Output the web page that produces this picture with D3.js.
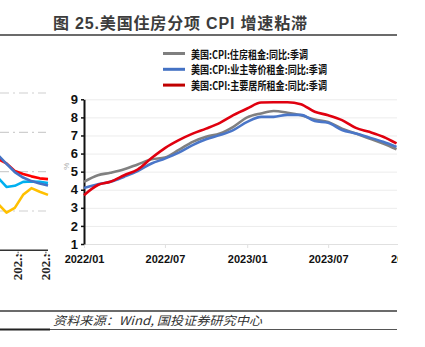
<!DOCTYPE html>
<html>
<head>
<meta charset="utf-8">
<script src="https://cdn.jsdelivr.net/npm/d3@7"></script>
<style>
  body { margin: 0; background: #fff; }
  svg { display: block; }
</style>
</head>
<body>
<script>
// monthly YoY, %, seasonally adjusted
var months = ['2022-01','2022-02','2022-03','2022-04','2022-05','2022-06','2022-07','2022-08','2022-09','2022-10','2022-11','2022-12',
              '2023-01','2023-02','2023-03','2023-04','2023-05','2023-06','2023-07','2023-08','2023-09','2023-10','2023-11','2023-12'];
var shelter = [4.44, 4.8, 4.94, 5.13, 5.4, 5.68, 5.78, 6.2, 6.65, 6.93, 7.11, 7.48, 8.0, 8.22, 8.35, 8.26, 8.12, 7.88, 7.75, 7.38, 7.11, 6.83, 6.56, 6.24];
var oer     = [4.1, 4.3, 4.44, 4.72, 5.03, 5.45, 5.72, 6.05, 6.47, 6.79, 7.02, 7.3, 7.75, 8.03, 8.03, 8.14, 8.14, 7.8, 7.7, 7.3, 7.11, 6.89, 6.65, 6.37];
var rent    = [3.7, 4.26, 4.44, 4.8, 5.12, 5.75, 6.3, 6.74, 7.1, 7.38, 7.7, 8.12, 8.49, 8.82, 8.84, 8.84, 8.73, 8.31, 8.12, 7.85, 7.42, 7.2, 6.93, 6.56];

var seriesNames  = ['美国:CPI:住房租金:同比:季调', '美国:CPI:业主等价租金:同比:季调', '美国:CPI:主要居所租金:同比:季调'];
var seriesColors = ['#808080', '#4a76c8', '#e0000f'];
var legendColors = ['#7f7f7f', '#4472c4', '#c00000'];

var yTicks = [1, 2, 3, 4, 5, 6, 7, 8, 9];
var xTicks = ['2022-01', '2022-07', '2023-01', '2023-07', '2024-01'];

// tail of the previous figure that sits to the left
var prevIdx    = [0, 1, 2, 3, 4, 5, 6];
var prevRed    = [2.32, 2.21, 2.02, 1.94, 1.88, 1.83, 1.81];
var prevBlue   = [2.42, 2.2, 1.99, 1.85, 1.76, 1.7, 1.65];
var prevCyan   = [1.84, 1.61, 1.64, 1.74, 1.75, 1.74, 1.71];
var prevYellow = [1.18, 0.96, 1.08, 1.41, 1.58, 1.49, 1.41];
var prevGrid   = [1, 2, 3, 4];
var prevTicks  = [2.4, 5.75];

var W = 425, H = 347;
var parseMonth = d3.timeParse('%Y-%m');

var svg = d3.select('body').append('svg')
  .attr('width', W)
  .attr('height', H);

svg.append('defs').append('clipPath').attr('id', 'page')
  .append('rect').attr('x', 0).attr('y', 0).attr('width', 398).attr('height', H);

var page = svg.append('g').attr('clip-path', 'url(#page)');

// title and rules
page.append('text')
  .attr('x', 53).attr('y', 23)
  .attr('dominant-baseline', 'central')
  .attr('font-family', 'Liberation Sans, Noto Sans CJK SC, sans-serif')
  .attr('font-weight', 'bold')
  .attr('font-size', 16)
  .attr('fill', '#3c3c3c')
  .attr('textLength', 254)
  .attr('lengthAdjust', 'spacing')
  .text('图 25.美国住房分项 CPI 增速粘滞');

page.append('line').attr('x1', 0).attr('x2', 397).attr('y1', 35).attr('y2', 35)
  .attr('stroke', '#3a3a3a').attr('stroke-width', 1.5);
page.append('line').attr('x1', 0).attr('x2', 397).attr('y1', 311).attr('y2', 311)
  .attr('stroke', '#3a3a3a').attr('stroke-width', 1.3);
page.append('line').attr('x1', 0).attr('x2', 397).attr('y1', 329.5).attr('y2', 329.5)
  .attr('stroke', '#555').attr('stroke-width', 1.2);
page.append('line').attr('x1', 0).attr('x2', 50).attr('y1', 329.5).attr('y2', 329.5)
  .attr('stroke', '#222').attr('stroke-width', 1.8);

page.append('text')
  .attr('x', 53).attr('y', 319)
  .attr('dominant-baseline', 'central')
  .attr('font-family', 'Noto Sans CJK SC, sans-serif')
  .attr('font-style', 'italic')
  .attr('font-size', 12)
  .attr('fill', '#333')
  .attr('textLength', 209)
  .attr('lengthAdjust', 'spacingAndGlyphs')
  .text('资料来源：Wind, 国投证券研究中心');

// ---- previous figure fragment ----
var px = d3.scaleLinear().domain([0, 6]).range([-1.8, 48]);
var py = d3.scaleLinear().domain([0, 4]).range([250.3, 93]);

var prev = page.append('g');
prev.selectAll('line.pgrid')
  .data(prevGrid)
  .enter().append('line')
  .attr('class', 'pgrid')
  .attr('x1', 0).attr('x2', 46)
  .attr('y1', function(d) { return py(d); })
  .attr('y2', function(d) { return py(d); })
  .attr('stroke', '#cfcfcf')
  .attr('stroke-width', 1.2)
  .attr('stroke-dasharray', '9,4,2,4');

var prevLine = d3.line()
  .x(function(d, i) { return px(prevIdx[i]); })
  .y(function(d) { return py(d); });

[[prevYellow, '#ffc000'], [prevCyan, '#00b0f0'], [prevRed, '#ff0000'], [prevBlue, '#4472c4']].forEach(function(s) {
  prev.append('path')
    .attr('d', prevLine(s[0]))
    .attr('fill', 'none')
    .attr('stroke', s[1])
    .attr('stroke-width', 2.6)
    .attr('stroke-linejoin', 'round');
});

prev.append('line').attr('x1', 0).attr('x2', 48).attr('y1', py(0)).attr('y2', py(0))
  .attr('stroke', '#333').attr('stroke-width', 1.5);

var prevTick = prev.selectAll('g.ptick')
  .data(prevTicks)
  .enter().append('g')
  .attr('class', 'ptick')
  .attr('transform', function(d) { return 'translate(' + px(d) + ',' + py(0) + ')'; });
prevTick.append('line')
  .attr('y1', 0).attr('y2', 6)
  .attr('stroke', '#333').attr('stroke-width', 1.2)
  .attr('stroke-dasharray', '1,1');
prevTick.append('text')
  .attr('transform', 'translate(4,30) rotate(-90)')
  .attr('font-family', 'Liberation Serif, serif')
  .attr('font-weight', 'bold')
  .attr('font-size', 13)
  .attr('fill', '#222')
  .text('202.:');

// ---- main chart ----
var x = d3.scaleTime()
  .domain([parseMonth('2022-01'), parseMonth('2024-01')])
  .range([84, 410.4]);
var y = d3.scaleLinear()
  .domain([1, 9])
  .range([244, 99.3]);

var chart = page.append('g');

// gridlines
chart.append('g')
  .attr('transform', 'translate(84,0)')
  .call(d3.axisRight(y).tickValues(yTicks).tickSize(313).tickFormat(''))
  .call(function(g) {
    g.select('.domain').remove();
    g.selectAll('line').attr('stroke', '#ececec').attr('stroke-width', 1);
  });

// x axis
chart.append('g')
  .attr('transform', 'translate(0,' + y(1) + ')')
  .call(d3.axisBottom(x)
    .tickValues(xTicks.map(parseMonth))
    .tickFormat(d3.timeFormat('%Y/%m'))
    .tickSize(4)
    .tickPadding(7))
  .call(function(g) {
    g.select('.domain').attr('stroke', '#e0e0e0');
    g.selectAll('line').attr('stroke', '#e0e0e0');
    g.selectAll('text')
      .attr('font-family', 'Liberation Sans Narrow, Liberation Sans, sans-serif')
      .attr('font-weight', 'bold')
      .attr('font-size', 11)
      .attr('fill', '#111');
  });

// y axis
chart.append('g')
  .attr('transform', 'translate(84,0)')
  .call(d3.axisLeft(y).tickValues(yTicks).tickSize(3).tickPadding(3).tickSizeOuter(0))
  .call(function(g) {
    g.select('.domain').attr('stroke', '#111').attr('stroke-width', 2);
    g.selectAll('line').attr('stroke', '#111').attr('stroke-width', 1.5);
    g.selectAll('text')
      .attr('font-family', 'Liberation Sans Narrow, Liberation Sans, sans-serif')
      .attr('font-weight', 'bold')
      .attr('font-size', 13)
      .attr('fill', '#111');
  });

chart.append('text')
  .attr('transform', 'translate(69,' + y(5.3) + ') rotate(-90)')
  .attr('text-anchor', 'middle')
  .attr('font-family', 'Liberation Sans, sans-serif')
  .attr('font-size', 8)
  .attr('fill', '#aaa')
  .text('%');

var line = d3.line()
  .x(function(d, i) { return x(parseMonth(months[i])); })
  .y(function(d) { return y(d); })
  .curve(d3.curveMonotoneX);

[shelter, oer, rent].forEach(function(s, k) {
  chart.append('path')
    .attr('d', line(s))
    .attr('fill', 'none')
    .attr('stroke', seriesColors[k])
    .attr('stroke-width', 2.6)
    .attr('stroke-linejoin', 'round');
});

// legend
var legendWidths = [117, 136, 136];
var legend = page.selectAll('g.legend')
  .data(seriesNames)
  .enter().append('g')
  .attr('class', 'legend')
  .attr('transform', function(d, i) { return 'translate(163,' + (53.5 + i * 15.8) + ')'; });
legend.append('line')
  .attr('x1', 0).attr('x2', 22)
  .attr('stroke', function(d, i) { return legendColors[i]; })
  .attr('stroke-width', 3);
legend.append('text')
  .attr('x', 28)
  .attr('dominant-baseline', 'central')
  .attr('font-family', 'Noto Sans CJK SC, sans-serif')
  .attr('font-weight', 'bold')
  .attr('font-size', 11)
  .attr('fill', '#111')
  .attr('textLength', function(d, i) { return legendWidths[i]; })
  .attr('lengthAdjust', 'spacingAndGlyphs')
  .text(function(d) { return d; });
</script>
</body>
</html>
